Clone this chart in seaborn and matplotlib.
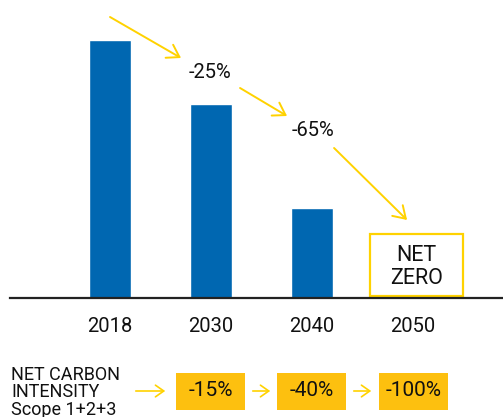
import matplotlib
matplotlib.use("Agg")
import matplotlib.pyplot as plt
from matplotlib.patches import Rectangle, FancyArrowPatch
import seaborn as sns
import pandas as pd

years = ["2018", "2030", "2040", "2050"]
values = [100, 75, 35, 0]
step_labels = ["-25%", "-65%"]
intensity_labels = ["-15%", "-40%", "-100%"]
row_label = "NET CARBON\nINTENSITY\nScope 1+2+3"
net_zero = "NET\nZERO"

BLUE = "#0067B1"
YELLOW = "#FFD200"
ORANGE = "#FDC00F"

sns.set_theme(style="white")
plt.rcParams["font.family"] = ["Roboto", "DejaVu Sans"]

W, H = 503, 417
fig = plt.figure(figsize=(W / 100, H / 100), dpi=100)
ax = fig.add_axes([10 / W, (H - 298) / H, 493 / W, 298 / H])

df = pd.DataFrame({"year": years, "value": values})
sns.barplot(data=df, x="year", y="value", color=BLUE, saturation=1,
            width=0.416, ax=ax)

ax.set_xlim(-0.99, 3.89)
ax.set_ylim(0, 115.5)
for s in ["top", "right", "left"]:
    ax.spines[s].set_visible(False)
ax.spines["bottom"].set_color("#222222")
ax.spines["bottom"].set_linewidth(1.6)
ax.set_yticks([])
ax.set_xlabel("")
ax.set_ylabel("")
ax.tick_params(axis="x", length=0, pad=14, labelsize=14.5, labelcolor="#111111")


def px(x, y):
    return ((x - 110) / 101, (298 - y) / 258 * 100)


def arrow(p0, p1, lw=1.4, hl=7, hw=4.5):
    ax.annotate("", xy=px(*p1), xytext=px(*p0),
                arrowprops=dict(arrowstyle=f"->,head_length={hl/10},head_width={hw/10}",
                                color=YELLOW, lw=lw, shrinkA=0, shrinkB=0),
                annotation_clip=False)


arrow((110, 17), (181, 58))
ax.text(*px(210, 73), step_labels[0], ha="center", va="center", fontsize=14.5, color="#111111")
arrow((240, 88), (287, 116))
ax.text(*px(313, 131), step_labels[1], ha="center", va="center", fontsize=14.5, color="#111111")
arrow((334, 148), (407, 220))

x0, y0 = px(370, 296)
x1, y1 = px(463, 234)
ax.add_patch(Rectangle((x0, y0), x1 - x0, y1 - y0, fill=False, edgecolor=YELLOW,
                       lw=1.6, clip_on=False))
ax.text(*px(416, 267), net_zero, ha="center", va="center", fontsize=15.5,
        color="#111111", linespacing=1.1)

# bottom row (figure pixel coordinates)
def fx(x):
    return x / W


def fy(y):
    return 1 - y / H


fig.text(fx(11), fy(366), row_label, ha="left", va="top", fontsize=13,
         color="#111111", linespacing=0.95)

box_centers = [210.5, 311.5, 413.5]
bw, bh, cy = 69, 37, 391
for c, lab in zip(box_centers, intensity_labels):
    fig.patches.append(Rectangle((fx(c - bw / 2), fy(cy + bh / 2)), bw / W, bh / H,
                                 transform=fig.transFigure, facecolor=ORANGE,
                                 edgecolor="none"))
    fig.text(fx(c), fy(cy), lab, ha="center", va="center", fontsize=15, color="#111111")

for a, b in [(133, 168), (250, 273), (351, 374)]:
    fig.patches.append(FancyArrowPatch((fx(a), fy(cy)), (fx(b), fy(cy)),
                                       transform=fig.transFigure,
                                       arrowstyle="->,head_length=0.5,head_width=0.35",
                                       color=YELLOW, lw=1.2, mutation_scale=12))

fig.savefig("out.png", dpi=100)
